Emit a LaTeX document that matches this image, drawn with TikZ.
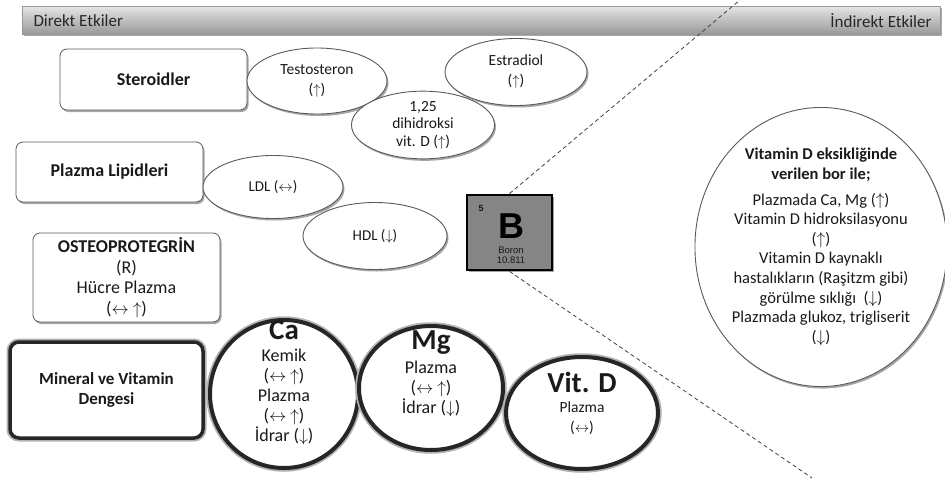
\documentclass[tikz,border=0pt]{standalone}
\usepackage{fontspec}
\setmainfont{Carlito}
\newfontfamily\elemfont{Liberation Sans}
\usetikzlibrary{shapes.geometric,shadows}
\newcommand{\aU}{\ensuremath{\uparrow}}
\newcommand{\aD}{\ensuremath{\downarrow}}
\newcommand{\aLR}{\ensuremath{\leftrightarrow}}
\definecolor{rim}{HTML}{5A5A5A}
\definecolor{inkd}{HTML}{1A1A1A}

\begin{document}
\begin{tikzpicture}[
 x=1pt,y=-1pt,text=inkd,
 soft/.style={drop shadow={shadow xshift=1.5pt,shadow yshift=-2pt,opacity=.35,fill=black}},
 box/.style={draw=rim,fill=white,rounded corners=7pt,line width=.8pt,align=center,inner sep=2pt,soft,font=\fontsize{18}{21}\selectfont\bfseries},
 heavybox/.style={box,draw=black!85,line width=3.5pt,rounded corners=9pt,preaction={draw=black!30,line width=7pt}},
 oval/.style={ellipse,draw=rim,fill=white,line width=.9pt,align=center,inner sep=0pt,soft,font=\fontsize{15.5}{20}\selectfont},
 ring/.style={ellipse,draw=black!85,fill=white,line width=4pt,inner sep=0pt,soft,preaction={draw=black!30,line width=7.5pt}},
 ringhead/.style={anchor=base,inner sep=0pt,font=\fontsize{29}{29}\selectfont\bfseries},
 ringtxt/.style={align=center,inner sep=0pt,font=\fontsize{18}{20}\selectfont},
 dashln/.style={draw=black!75,line width=.8pt,dash pattern=on 4pt off 3pt},
 bartxt/.style={font=\fontsize{17}{19}\selectfont,text=black!85},
 elemtxt/.style={font=\elemfont\fontsize{9.5}{10}\selectfont,text=black!90}
]
\useasboundingbox (0,0) rectangle (945,479);

% top bar
\node[draw=black!40,top color=black!10,bottom color=black!40,minimum width=918pt,minimum height=28pt,inner sep=0pt,soft] (topbar) at (481,20) {};
\node[bartxt,anchor=west] (direkt) at (30,21) {Direkt Etkiler};
\node[bartxt,anchor=east] (indirekt) at (935,21) {İndirekt Etkiler};

% boron
\node[draw=black,line width=2.8pt,fill=black!48,minimum width=85pt,minimum height=75pt,inner sep=0pt,soft] (boron) at (509.5,232.5) {};
\node[elemtxt,font=\elemfont\bfseries\fontsize{9}{10}\selectfont] (bnum) at (481,208) {5};
\node[font=\elemfont\bfseries\fontsize{36}{36}\selectfont,text=black] (bsym) at (511,226) {B};
\node[elemtxt] (bname) at (511,250) {Boron};
\node[elemtxt] (bmass) at (511,260) {10.811};
\coordinate (dtop) at (740,0);
\coordinate (dbot) at (812,478);
\draw[dashln] (boron.north) -- (dtop);
\draw[dashln] (boron.south) -- (dbot);

% direct effects
\node[box,minimum width=187pt,minimum height=61pt] (ster) at (153.5,79.5) {Steroidler};
\node[oval,minimum width=140pt,minimum height=66pt] (testo) at (317,81) {Testosteron\\(\aU)};
\node[oval,minimum width=142pt,minimum height=67pt] (estr) at (516,72) {Estradiol\\(\aU)};
\node[oval,minimum width=143pt,minimum height=66pt,font=\fontsize{15.5}{17.5}\selectfont] (dihid) at (423,125) {1,25\\dihidroksi\\vit. D (\aU)};

\node[box,minimum width=187pt,minimum height=60pt] (lipid) at (109.5,172) {Plazma Lipidleri};
\node[oval,minimum width=140pt,minimum height=63pt,font=\fontsize{15}{18}\selectfont] (ldl) at (273,187) {LDL (\aLR)};
\node[oval,minimum width=144pt,minimum height=67pt,font=\fontsize{15}{18}\selectfont] (hdl) at (375,236) {HDL (\aD)};

\node[box,minimum width=187pt,minimum height=89pt,font=\fontsize{18}{20.5}\selectfont] (osteo) at (126.5,277.5) {\textbf{OSTEOPROTEGRİN}\\(R)\\Hücre Plazma\\(\aLR{} \aU)};

\node[heavybox,minimum width=193pt,minimum height=96pt,font=\fontsize{17}{20}\selectfont\bfseries] (mineral) at (106.5,390) {Mineral ve Vitamin\\Dengesi};
\node[ring,minimum width=148pt,minimum height=148pt] (ca) at (284,394) {};
\node[ringhead] (cahead) at (284,339) {Ca};
\node[ringtxt] (catxt) at (284,397) {Kemik\\(\aLR{} \aU)\\Plazma\\(\aLR{} \aU)\\İdrar (\aD)};
\node[ring,minimum width=144pt,minimum height=124pt] (mg) at (431,388) {};
\node[ringhead] (mghead) at (431,349) {Mg};
\node[ringtxt] (mgtxt) at (431,389) {Plazma\\(\aLR{} \aU)\\İdrar (\aD)};
\node[ring,minimum width=152pt,minimum height=112pt] (vitd) at (582,413) {};
\node[ringhead] (vitdhead) at (582,392) {Vit. D};
\node[ringtxt,font=\fontsize{15.5}{20}\selectfont] (vitdtxt) at (582,418) {Plazma\\(\aLR)};

% indirect effects
\node[oval,minimum width=246pt,minimum height=272pt,font=\fontsize{16.5}{19.6}\selectfont] (bigell) at (821,247) {\textbf{Vitamin D eksikliğinde}\\\textbf{verilen bor ile;}\\[6pt]Plazmada Ca, Mg (\aU)\\Vitamin D hidroksilasyonu\\(\aU)\\Vitamin D kaynaklı\\hastalıkların (Raşitzm gibi)\\görülme sıklığı~~(\aD)\\Plazmada glukoz, trigliserit\\(\aD)};
\end{tikzpicture}
\end{document}
